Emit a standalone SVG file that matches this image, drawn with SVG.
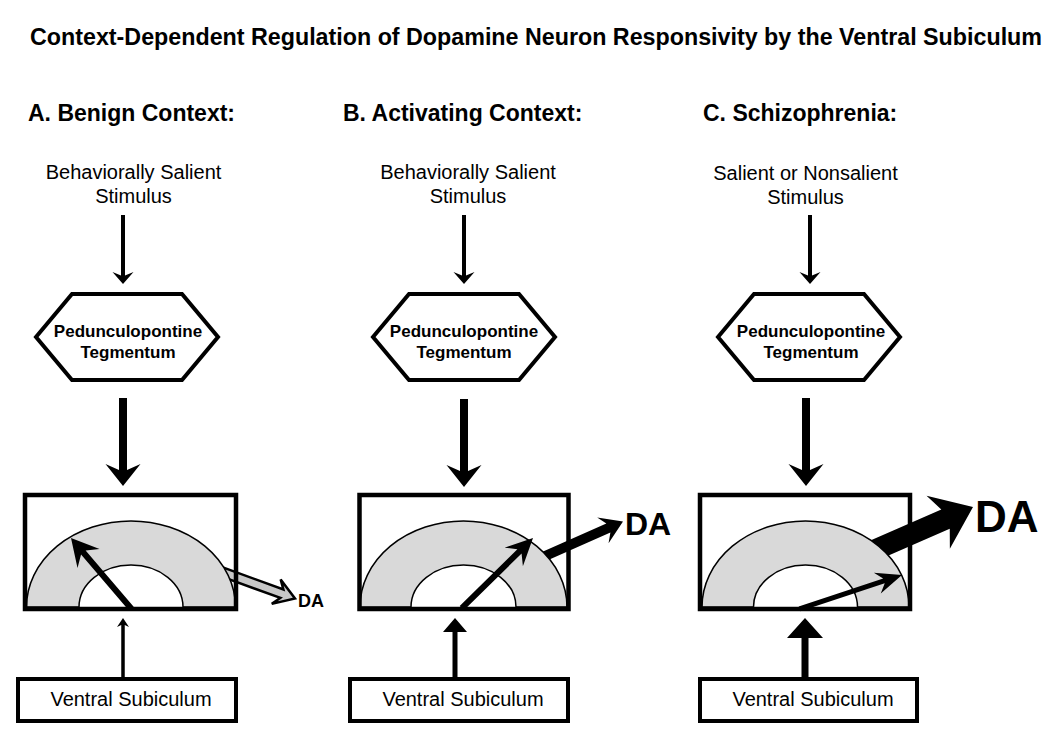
<svg xmlns="http://www.w3.org/2000/svg" width="1050" height="741" viewBox="0 0 1050 741">
<style>
.t{font-family:"Liberation Sans",Arial,sans-serif;fill:#000}
.h{font-size:23px;font-weight:bold}
.s{font-size:20px;text-anchor:middle}
.p{font-size:17px;font-weight:bold;text-anchor:middle}
.d{font-weight:bold}
.box{fill:none;stroke:#000;stroke-width:4.5}
.vs{fill:#fff;stroke:#000;stroke-width:4}
.hex{fill:#fff;stroke:#000;stroke-width:4;stroke-linejoin:miter}
.ann{fill:#d9d9d9;stroke:#000;stroke-width:1.5}
.blk{fill:#000}
.gry{fill:#c8c8c8;stroke:#000;stroke-width:2.5;stroke-linejoin:miter}
</style>
<defs>
<path id="aStim" d="M0,0 L-12,-10.5 L-8.5,-2 L-69,-2 L-69,2 L-8.5,2 L-12,10.5 Z"/>
<path id="aPPT" d="M0,0 L-22,-17.5 L-16,-4 L-88,-4 L-88,4 L-16,4 L-22,17.5 Z"/>
</defs>
<rect width="1050" height="741" fill="#fff"/>
<g id="title"><text class="t h" x="30" y="45" textLength="1012" lengthAdjust="spacingAndGlyphs">Context-Dependent Regulation of Dopamine Neuron Responsivity by the Ventral Subiculum</text></g>
<g id="heading-a"><text class="t h" x="28" y="121">A. Benign Context:</text></g>
<g id="heading-b"><text class="t h" x="343" y="121">B. Activating Context:</text></g>
<g id="heading-c"><text class="t h" x="703" y="121">C. Schizophrenia:</text></g>

<g id="connectors">
<use href="#aStim" class="blk" transform="translate(123,284) rotate(90)"/>
<use href="#aStim" class="blk" transform="translate(464,284) rotate(90)"/>
<use href="#aStim" class="blk" transform="translate(810,284) rotate(90)"/>
<use href="#aPPT" class="blk" transform="translate(123,486) rotate(90)"/>
<use href="#aPPT" class="blk" transform="translate(464,487) rotate(90)"/>
<use href="#aPPT" class="blk" transform="translate(806,486) rotate(90)"/>
<path class="blk" transform="translate(123,618) rotate(-90)" d="M0,0 L-9,-6 L-7,-1.75 L-59,-1.75 L-59,1.75 L-7,1.75 L-9,6 Z"/>
<path class="blk" transform="translate(455,618) rotate(-90)" d="M0,0 L-14,-12 L-14,-2.5 L-59,-2.5 L-59,2.5 L-14,2.5 L-14,12 Z"/>
<path class="blk" transform="translate(805,618) rotate(-90)" d="M0,0 L-20,-18 L-20,-3.5 L-59,-3.5 L-59,3.5 L-20,3.5 L-20,18 Z"/>
<path class="gry" transform="translate(295,598.5) rotate(20)" d="M-85,-4.5 L-14,-4.5 L-20,-13 L0,0 L-20,13 L-14,4.5 L-85,4.5"/>
<path class="blk" transform="translate(623,521.5) rotate(-23.9)" d="M0,0 L-22,-14 L-16,-5 L-100,-5 L-100,5 L-16,5 L-22,14 Z"/>
<path class="blk" transform="translate(973,507) rotate(-23.7)" d="M0,0 L-38,-29 L-30,-10.5 L-120,-10.5 L-120,10.5 L-30,10.5 L-38,29 Z"/>
</g>

<g id="stim-a"><text class="t s" x="133.5" y="179">Behaviorally Salient</text><text class="t s" x="133.5" y="203">Stimulus</text></g>
<g id="stim-b"><text class="t s" x="468" y="179">Behaviorally Salient</text><text class="t s" x="468" y="203">Stimulus</text></g>
<g id="stim-c"><text class="t s" x="805.5" y="180">Salient or Nonsalient</text><text class="t s" x="805.5" y="204">Stimulus</text></g>

<g id="ppt-a"><polygon class="hex" points="36,337 72,294 182,294 218,337 182,380 72,380"/><text class="t p" x="128" y="337">Pedunculopontine</text><text class="t p" x="128" y="358">Tegmentum</text></g>
<g id="ppt-b"><polygon class="hex" points="373,337 409,294 519,294 555,337 519,380 409,380"/><text class="t p" x="464" y="337">Pedunculopontine</text><text class="t p" x="464" y="358">Tegmentum</text></g>
<g id="ppt-c"><polygon class="hex" points="718,337 754,294 864,294 900,337 864,380 754,380"/><text class="t p" x="811" y="337">Pedunculopontine</text><text class="t p" x="811" y="358">Tegmentum</text></g>

<g id="vta-a">
<path class="ann" d="M26.5,607 A104.5,86 0 0 1 235.5,607 L183,607 A52,42 0 0 0 79,607 Z"/>
<path class="blk" transform="translate(71,538) rotate(-130.5)" d="M0,0 L-27,-14.5 L-19,-3 L-93,-3 L-93,3 L-19,3 L-27,14.5 Z"/>
<rect class="box" x="25" y="495" width="211" height="114"/>
</g>
<g id="vta-b">
<path class="ann" d="M360,607 A103.5,86 0 0 1 567,607 L516,607 A52.5,42 0 0 0 411,607 Z"/>
<path class="blk" transform="translate(533,538) rotate(-44.6)" d="M0,0 L-27,-13 L-19,-3 L-100,-3 L-100,3 L-19,3 L-27,13 Z"/>
<rect class="box" x="359.5" y="495" width="209" height="114"/>
</g>
<g id="vta-c">
<path class="ann" d="M702,607 A103.5,86 0 0 1 909,607 L857.5,607 A52,42 0 0 0 753.5,607 Z"/>
<path class="blk" transform="translate(902,575) rotate(-18.3)" d="M0,0 L-26,-11 L-19,-2.5 L-108,-2.5 L-108,2.5 L-19,2.5 L-26,11 Z"/>
<rect class="box" x="700" y="495" width="210" height="114"/>
</g>

<g id="da-a"><text class="t d" x="298" y="607" font-size="18">DA</text></g>
<g id="da-b"><text class="t d" x="625" y="535" font-size="32">DA</text></g>
<g id="da-c"><text class="t d" x="975" y="532" font-size="44">DA</text></g>

<g id="vs-a"><rect class="vs" x="18" y="679" width="218" height="42"/><text class="t s" x="131" y="706">Ventral Subiculum</text></g>
<g id="vs-b"><rect class="vs" x="350" y="679" width="218" height="42"/><text class="t s" x="463" y="706">Ventral Subiculum</text></g>
<g id="vs-c"><rect class="vs" x="700" y="679" width="217" height="42"/><text class="t s" x="813" y="706">Ventral Subiculum</text></g>
</svg>
